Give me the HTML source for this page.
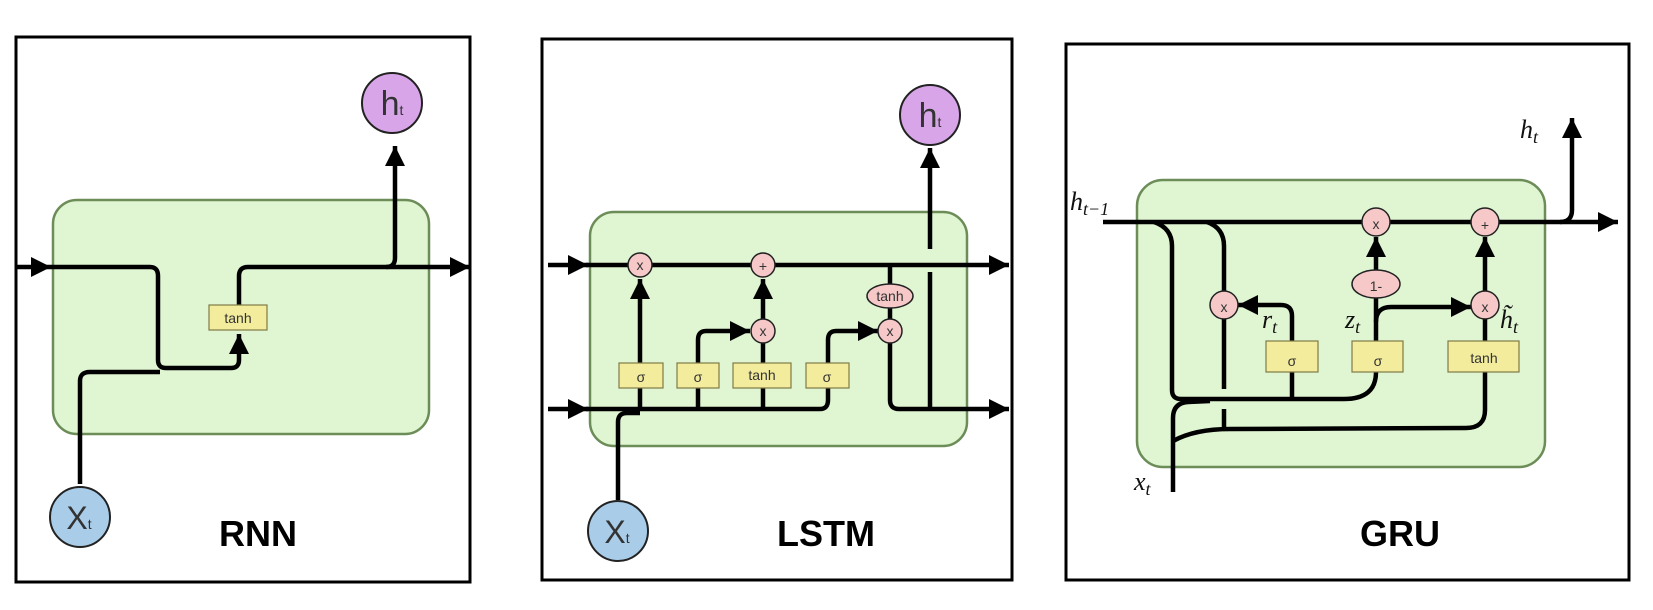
<!DOCTYPE html>
<html><head><meta charset="utf-8"><style>
html,body{margin:0;padding:0;background:#fff;}
svg{display:block;}
.ln{fill:none;stroke:#000;stroke-width:4.5;stroke-linejoin:round;}
.box{fill:#f3ec9c;stroke:#7f7a45;stroke-width:1.2;}
.op{fill:#f6c8c8;stroke:#222;stroke-width:1.5;}
.g{fill:#e0f6d3;stroke:#6c8c58;stroke-width:2.5;}
.fr{fill:#fff;stroke:#000;stroke-width:3;}
text{font-family:"Liberation Sans",sans-serif;}
.t{font-size:14px;fill:#333;text-anchor:middle;}
.lab{font-size:36px;font-weight:bold;text-anchor:middle;fill:#000;}
.m{font-family:"Liberation Serif",serif;font-style:italic;font-size:26px;fill:#111;}
</style></head><body>
<svg width="1653" height="610" viewBox="0 0 1653 610" xmlns="http://www.w3.org/2000/svg">
<defs>
<marker id="a" markerUnits="userSpaceOnUse" markerWidth="22" markerHeight="20" refX="20" refY="10" orient="auto">
<path d="M0,0 L20,10 L0,20 Z" fill="#000"/></marker>
</defs>

<!-- RNN -->
<rect class="fr" x="16" y="37" width="454" height="545"/>
<rect class="g" x="53" y="200" width="376" height="234" rx="24"/>
<path class="ln" d="M16,267 L51,267" marker-end="url(#a)"/>
<path class="ln" d="M51,267 L150,267 Q158,267 158,276 L158,360 Q158,368 166,368 L231,368 Q239,368 239,360 L239,334" marker-end="url(#a)"/>
<path class="ln" d="M80,484 L80,381 Q80,372 90,372 L160,372"/>
<path class="ln" d="M239,305 L239,276 Q239,267 248,267 L470,267" marker-end="url(#a)"/>
<path class="ln" d="M386,267 Q395,267 395,258 L395,146" marker-end="url(#a)"/>
<rect class="box" x="209" y="305" width="58" height="25"/>
<text class="t" x="238" y="323">tanh</text>
<circle cx="392" cy="103" r="30" fill="#d8a6e8" stroke="#222" stroke-width="2"/>
<text x="392" y="115" font-size="34" fill="#333" text-anchor="middle">h<tspan font-size="14">t</tspan></text>
<circle cx="80" cy="517" r="30" fill="#a9cde9" stroke="#222" stroke-width="2"/>
<text x="79" y="529" font-size="32" fill="#333" text-anchor="middle">X<tspan font-size="14">t</tspan></text>
<text class="lab" x="258" y="546">RNN</text>

<!-- LSTM -->
<rect class="fr" x="542" y="39" width="470" height="541"/>
<rect class="g" x="590" y="212" width="377" height="234" rx="24"/>
<path class="ln" d="M548,265 L588,265" marker-end="url(#a)"/>
<path class="ln" d="M548,409 L588,409" marker-end="url(#a)"/>
<path class="ln" d="M586,265 L1009,265" marker-end="url(#a)"/>
<path class="ln" d="M586,409 L820,409 Q828,409 828,400 L828,340 Q828,331 836,331 L878,331" marker-end="url(#a)"/>
<path class="ln" d="M618,500 L618,422 Q618,413 627,413 L640,413"/>
<path class="ln" d="M640,409 L640,279" marker-end="url(#a)"/>
<path class="ln" d="M698,409 L698,340 Q698,331 706,331 L750,331" marker-end="url(#a)"/>
<path class="ln" d="M763,409 L763,279" marker-end="url(#a)"/>
<path class="ln" d="M890,265 L890,400 Q890,409 899,409 L1009,409" marker-end="url(#a)"/>
<path class="ln" d="M930,409 L930,272"/>
<path class="ln" d="M930,249 L930,148" marker-end="url(#a)"/>
<rect class="box" x="619" y="363" width="44" height="25"/>
<rect class="box" x="677" y="363" width="42" height="25"/>
<rect class="box" x="733" y="363" width="58" height="25"/>
<rect class="box" x="806" y="363" width="43" height="25"/>
<text class="t" x="641" y="382" font-size="19">σ</text>
<text class="t" x="698" y="382" font-size="19">σ</text>
<text class="t" x="762" y="380">tanh</text>
<text class="t" x="827" y="382" font-size="19">σ</text>
<circle class="op" cx="640" cy="265" r="12"/><text class="t" x="640" y="270">x</text>
<circle class="op" cx="763" cy="265" r="12"/><text class="t" x="763" y="271" font-size="17">+</text>
<circle class="op" cx="763" cy="331" r="12"/><text class="t" x="763" y="336">x</text>
<circle class="op" cx="890" cy="331" r="12"/><text class="t" x="890" y="336">x</text>
<ellipse class="op" cx="890" cy="296" rx="23" ry="12"/><text class="t" x="890" y="301">tanh</text>
<circle cx="930" cy="115" r="30" fill="#d8a6e8" stroke="#222" stroke-width="2"/>
<text x="930" y="127" font-size="34" fill="#333" text-anchor="middle">h<tspan font-size="14">t</tspan></text>
<circle cx="618" cy="531" r="30" fill="#a9cde9" stroke="#222" stroke-width="2"/>
<text x="617" y="543" font-size="32" fill="#333" text-anchor="middle">X<tspan font-size="14">t</tspan></text>
<text class="lab" x="826" y="546">LSTM</text>

<!-- GRU -->
<rect class="fr" x="1066" y="44" width="563" height="536"/>
<rect class="g" x="1137" y="180" width="408" height="287" rx="26"/>
<path class="ln" d="M1103,222 L1618,222" marker-end="url(#a)"/>
<path class="ln" d="M1560,222 Q1572,222 1572,210 L1572,118" marker-end="url(#a)"/>
<path class="ln" d="M1154,222 Q1172,228 1172,246 L1172,390 Q1172,399 1181,399 L1344,399 Q1376,399 1376,372 L1376,237" marker-end="url(#a)"/>
<path class="ln" d="M1207,222 Q1224,228 1224,246 L1224,389"/>
<path class="ln" d="M1224,409 L1224,428"/>
<path class="ln" d="M1173,492 L1173,418 Q1173,403 1188,402 L1210,401"/>
<path class="ln" d="M1173,441 Q1195,429 1230,429 L1466,428 Q1485,428 1485,410 L1485,237" marker-end="url(#a)"/>
<path class="ln" d="M1292,399 L1292,316 Q1292,305 1281,305 L1238,305" marker-end="url(#a)"/>
<path class="ln" d="M1376,322 Q1376,307 1391,307 L1471,307" marker-end="url(#a)"/>
<rect class="box" x="1266" y="341" width="52" height="31"/>
<rect class="box" x="1352" y="341" width="51" height="31"/>
<rect class="box" x="1448" y="341" width="71" height="31"/>
<text class="t" x="1292" y="366" font-size="26" fill="#222">σ</text>
<text class="t" x="1378" y="366" font-size="26" fill="#222">σ</text>
<text class="t" x="1484" y="363" font-size="20" fill="#222">tanh</text>
<circle class="op" cx="1376" cy="222" r="14"/><text class="t" x="1376" y="229" font-size="20" fill="#222">x</text>
<circle class="op" cx="1485" cy="222" r="14"/><text class="t" x="1485" y="230" font-size="22" fill="#222">+</text>
<circle class="op" cx="1224" cy="305" r="14"/><text class="t" x="1224" y="312" font-size="20" fill="#222">x</text>
<circle class="op" cx="1485" cy="305" r="14"/><text class="t" x="1485" y="312" font-size="20" fill="#222">x</text>
<ellipse class="op" cx="1376" cy="284" rx="24" ry="14"/><text class="t" x="1376" y="291" font-size="20" fill="#222">1-</text>
<text class="m" x="1070" y="210">h<tspan font-size="18" dy="5">t−1</tspan></text>
<text class="m" x="1520" y="138">h<tspan font-size="18" dy="5">t</tspan></text>
<text class="m" x="1262" y="328">r<tspan font-size="18" dy="5">t</tspan></text>
<text class="m" x="1345" y="328">z<tspan font-size="18" dy="5">t</tspan></text>
<text class="m" x="1500" y="328">h̃<tspan font-size="18" dy="5">t</tspan></text>
<text class="m" x="1134" y="490">x<tspan font-size="18" dy="5">t</tspan></text>
<text class="lab" x="1400" y="546">GRU</text>
</svg>
</body></html>
